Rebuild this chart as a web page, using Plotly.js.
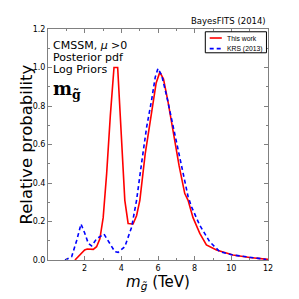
<!DOCTYPE html>
<html><head><meta charset="utf-8">
<script src="https://cdn.plot.ly/plotly-3.0.1.min.js"></script>
<style>body{margin:0;padding:0;background:#fff}#c{width:299px;height:299px}</style>
</head><body><div id="c"></div>
<script>
const thisWorkX = [1.47, 2.0, 2.14, 2.47, 2.65, 2.83, 3.01, 3.2, 3.4, 3.6, 3.8, 3.9, 4.05, 4.19, 4.37, 4.5, 4.64, 4.83, 5.01, 5.3, 5.65, 5.9, 6.1, 6.3, 6.55, 6.83, 7.15, 7.46, 7.64, 7.91, 8.28, 8.64, 9.19, 10.09, 11.0, 12.0];
const thisWorkY = [0.0, 0.052, 0.057, 0.055, 0.069, 0.11, 0.22, 0.45, 0.75, 1.0, 1.0, 0.82, 0.55, 0.31, 0.19, 0.187, 0.187, 0.23, 0.31, 0.55, 0.78, 0.92, 0.976, 0.94, 0.82, 0.656, 0.49, 0.345, 0.31, 0.22, 0.138, 0.078, 0.052, 0.026, 0.013, 0.003];
const krsX = [0.93, 1.29, 1.56, 1.8, 2.0, 2.2, 2.38, 2.65, 3.05, 3.38, 3.65, 3.83, 4.19, 4.56, 4.83, 5.1, 5.38, 5.65, 5.85, 6.0, 6.2, 6.5, 6.92, 7.3, 7.64, 7.83, 8.28, 8.82, 9.37, 10.09, 11.0, 11.9];
const krsY = [0.0, 0.017, 0.10, 0.187, 0.14, 0.086, 0.073, 0.11, 0.135, 0.086, 0.043, 0.04, 0.069, 0.17, 0.31, 0.5, 0.69, 0.83, 0.95, 0.995, 0.96, 0.84, 0.656, 0.49, 0.33, 0.276, 0.18, 0.095, 0.043, 0.026, 0.013, 0.003];
const seriesNames = ["This work", "KRS (2013)"];
const seriesColors = ['#ff0000', '#0000ff'];
const seriesDash = ['solid', '4px,3px'];

const traces = [
  {x: thisWorkX, y: thisWorkY, mode: 'lines', name: seriesNames[0], line: {color: seriesColors[0], width: 1.6, dash: seriesDash[0]}},
  {x: krsX, y: krsY, mode: 'lines', name: seriesNames[1], line: {color: seriesColors[1], width: 1.6, dash: seriesDash[1]}}
];
const axisCommon = {
  showline: true, mirror: 'ticks', linecolor: '#808080', linewidth: 1,
  ticks: 'inside', ticklen: 4, tickcolor: '#808080', showgrid: false, zeroline: false,
  tickfont: {family: 'DejaVu Sans, sans-serif', size: 8, color: '#000'},
};
// compact matplotlib-like legend box
const legBox = {x0: 0.715, x1: 0.993, y0: 0.897, y1: 0.988};
const legRows = [0.961, 0.915];
const shapes = [
  {type: 'rect', xref: 'paper', yref: 'paper', x0: legBox.x0, x1: legBox.x1, y0: legBox.y0, y1: legBox.y1,
   line: {color: '#000', width: 1}, fillcolor: '#fff', layer: 'above'}
];
const annotations = [
  {text: 'BayesFITS (2014)', xref: 'paper', yref: 'paper', x: 1.0, y: 1.0, xanchor: 'right', yanchor: 'bottom', showarrow: false, yshift: 1,
   font: {family: 'DejaVu Sans, sans-serif', size: 8.5, color: '#000'}},
  {text: 'Relative probability', xref: 'paper', yref: 'paper', x: -0.1, y: 0.5, xanchor: 'center', yanchor: 'middle', showarrow: false, textangle: -90,
   font: {family: 'DejaVu Sans, sans-serif', size: 16.5, color: '#000'}},
  {text: 'CMSSM, <i>μ</i> >0', xref: 'paper', yref: 'paper', x: 0.015, y: 0.93, xanchor: 'left', yanchor: 'middle', showarrow: false,
   font: {family: 'DejaVu Sans, sans-serif', size: 11, color: '#000'}},
  {text: 'Posterior pdf', xref: 'paper', yref: 'paper', x: 0.015, y: 0.876, xanchor: 'left', yanchor: 'middle', showarrow: false,
   font: {family: 'DejaVu Sans, sans-serif', size: 11, color: '#000'}},
  {text: 'Log Priors', xref: 'paper', yref: 'paper', x: 0.015, y: 0.824, xanchor: 'left', yanchor: 'middle', showarrow: false,
   font: {family: 'DejaVu Sans, sans-serif', size: 11, color: '#000'}},
  {text: '<b>m</b><sub><b>g̃</b></sub>', xref: 'paper', yref: 'paper', x: 0.015, y: 0.735, xanchor: 'left', yanchor: 'middle', showarrow: false,
   font: {family: 'DejaVu Serif, serif', size: 18, color: '#000'}}
];
seriesNames.forEach((n, i) => {
  shapes.push({type: 'line', xref: 'paper', yref: 'paper', x0: 0.735, x1: 0.79, y0: legRows[i], y1: legRows[i],
    line: {color: seriesColors[i], width: 1.6, dash: seriesDash[i]}, layer: 'above'});
  annotations.push({text: n, xref: 'paper', yref: 'paper', x: 0.803, y: legRows[i], xanchor: 'left', yanchor: 'middle', showarrow: false,
    font: {family: 'Liberation Sans, Arial, sans-serif', size: 6.8, color: '#000'}});
});
const layout = {
  width: 299, height: 299,
  margin: {l: 48, r: 31, t: 29, b: 39},
  paper_bgcolor: '#fff', plot_bgcolor: '#fff',
  showlegend: false,
  xaxis: Object.assign({}, axisCommon, {range: [0, 12], tickvals: [2,4,6,8,10,12], ticktext: ['2','4','6','8','10','12'],
    minor: {ticks: 'inside', ticklen: 2, tickcolor: '#808080', dtick: 1},
    title: {text: '<i>m</i><sub><i>g̃</i></sub> (TeV)', font: {family: 'DejaVu Sans, sans-serif', size: 15, color: '#000'}, standoff: 4}}),
  yaxis: Object.assign({}, axisCommon, {range: [0, 1.2], dtick: 0.2, tickformat: '.1f',
    minor: {ticks: 'inside', ticklen: 2, tickcolor: '#808080', dtick: 0.1}}),
  shapes: shapes,
  annotations: annotations
};
Plotly.newPlot('c', traces, layout, {displayModeBar: false, staticPlot: true});
</script></body></html>
